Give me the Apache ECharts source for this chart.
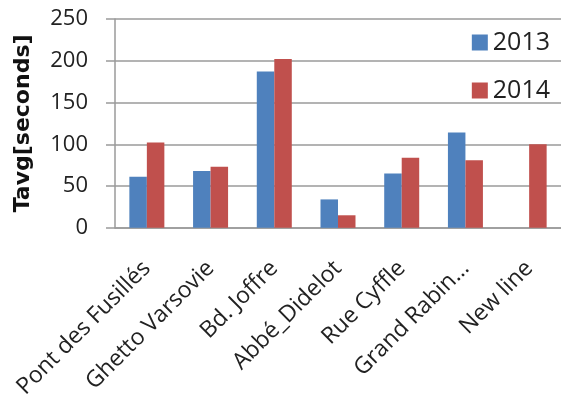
<!DOCTYPE html>
<html><head><meta charset="utf-8">
<script src="https://cdn.jsdelivr.net/npm/echarts@6/dist/echarts.min.js"></script>
<style>html,body{margin:0;padding:0;background:#fff}#c{width:561px;height:401px}</style>
</head><body><div id="c"></div>
<script>
const categories = ["Pont des Fusillés","Ghetto Varsovie","Bd. Joffre","Abbé_Didelot","Rue Cyffle","Grand Rabin…","New line"];
const values2013 = [61, 68, 187, 34, 65, 114, null];
const values2014 = [102, 73, 202, 15, 84, 81, 100];
const yTicks = [0, 50, 100, 150, 200, 250];

const chart = echarts.init(document.getElementById('c'), null, {renderer:'canvas'});
const font = '"Open Sans", sans-serif';
chart.setOption({
  animation: false,
  textStyle: {fontFamily: font},
  grid: {left: 115, right: 0, top: 19, bottom: 171},
  legend: {
    orient: 'vertical', right: 6, top: 25, itemWidth: 16, itemHeight: 16, itemGap: 23,
    icon: 'rect',
    textStyle: {fontSize: 25, color: '#222', fontFamily: font},
    data: ['2013', '2014']
  },
  xAxis: {
    type: 'category', data: categories,
    axisLine: {lineStyle: {color: '#9a9a9a', width: 1.5}},
    axisTick: {show: false},
    axisLabel: {rotate: 45, interval: 0, fontSize: 23, color: '#222', margin: 37, fontFamily: font}
  },
  yAxis: {
    type: 'value', min: yTicks[0], max: yTicks[yTicks.length-1], interval: 50,
    name: 'Tavg[seconds]', nameLocation: 'middle', nameGap: 81, nameRotate: 90,
    nameTextStyle: {fontSize: 22, fontWeight: 'bold', color: '#111', fontFamily: '"DejaVu Sans", sans-serif'},
    axisLine: {show: true, lineStyle: {color: '#9a9a9a', width: 1.5}},
    axisTick: {show: true, length: 9, lineStyle: {color: '#9a9a9a', width: 1.5}},
    axisLabel: {fontSize: 22, color: '#222', margin: 27, fontFamily: font},
    splitLine: {lineStyle: {color: '#9a9a9a', width: 1.5}}
  },
  series: [
    {name: '2013', type: 'bar', data: values2013, barWidth: 17.5, barGap: '0%', itemStyle: {color: '#4F81BD'}},
    {name: '2014', type: 'bar', data: values2014, barWidth: 17.5, barGap: '0%', itemStyle: {color: '#C0504D'}}
  ]
});
</script></body></html>
